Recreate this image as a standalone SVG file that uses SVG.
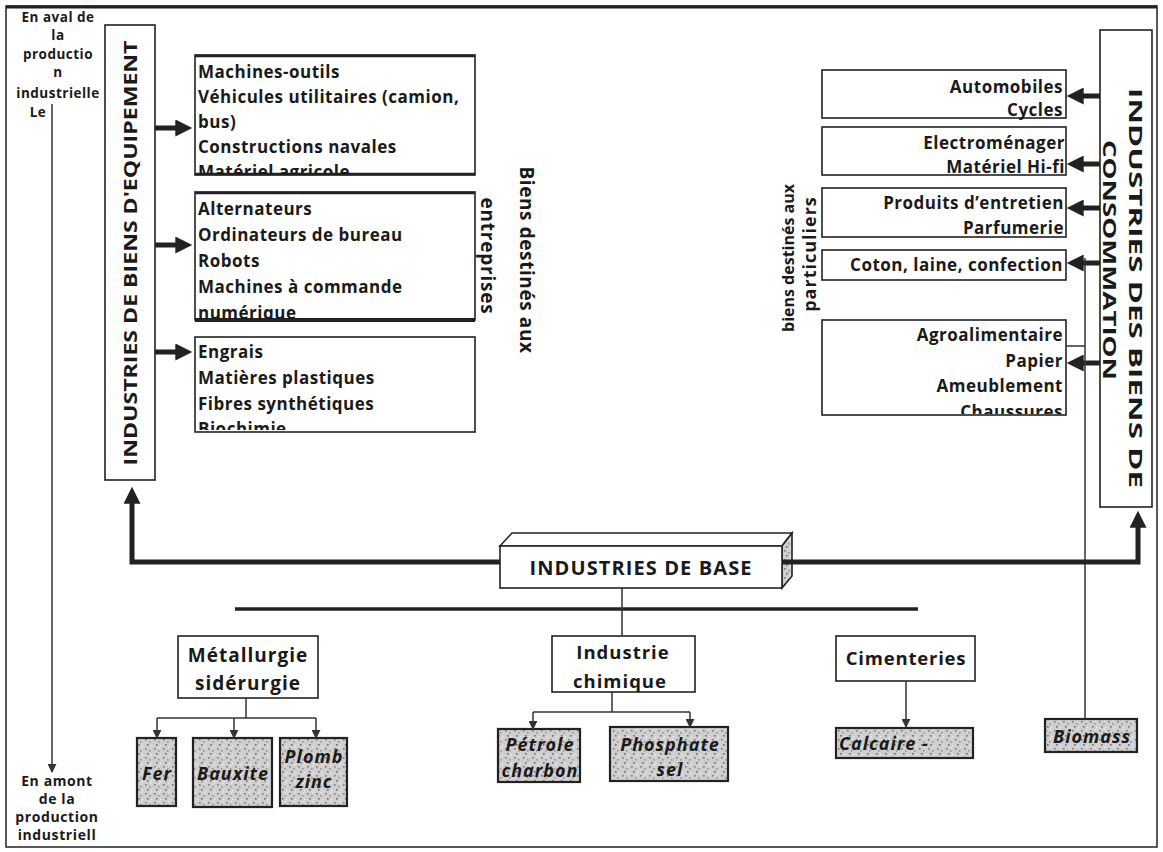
<svg xmlns="http://www.w3.org/2000/svg" width="1163" height="852" viewBox="0 0 1163 852">
<style>
.t{font-family:"Open Sans","Liberation Sans",sans-serif;font-weight:700;fill:#1a1a1a}
.l{font-size:17px;letter-spacing:0.5px}
.it{font-style:italic;font-size:18px;letter-spacing:1px}
.box{fill:#fff;stroke:#222;stroke-width:1.6}
.gbox{fill:url(#stip);stroke:#222;stroke-width:2.2}
.thick{fill:none;stroke:#222;stroke-width:5}
.thin{fill:none;stroke:#333;stroke-width:1.5}
</style>
<defs>
<pattern id="stip" width="9" height="9" patternUnits="userSpaceOnUse">
<rect width="9" height="9" fill="#cfcfcf"/>
<rect x="1" y="1" width="1.6" height="1.6" fill="#7a7a7a"/>
<rect x="5" y="3" width="1.6" height="1.6" fill="#969696"/>
<rect x="3" y="6" width="1.6" height="1.6" fill="#6e6e6e"/>
<rect x="7" y="7" width="1.2" height="1.2" fill="#f2f2f2"/>
<rect x="6" y="0" width="1.2" height="1.2" fill="#eee"/>
</pattern>
<marker id="big" viewBox="0 0 10 10" refX="1" refY="5" markerWidth="18" markerHeight="17" markerUnits="userSpaceOnUse" orient="auto">
<path d="M0,0 L10,5 L0,10 z" fill="#222"/>
</marker>
<marker id="sm" viewBox="0 0 10 10" refX="9" refY="5" markerWidth="9" markerHeight="9" markerUnits="userSpaceOnUse" orient="auto">
<path d="M0,0 L10,5 L0,10 z" fill="#333"/>
</marker>
<clipPath id="c1"><rect x="196" y="56" width="279" height="118"/></clipPath>
<clipPath id="c2"><rect x="196" y="193" width="279" height="126"/></clipPath>
<clipPath id="c3"><rect x="196" y="338" width="279" height="92"/></clipPath>
<clipPath id="c5"><rect x="823" y="321" width="242" height="93"/></clipPath>
</defs>

<rect x="6" y="6" width="1151" height="841" fill="#fff" stroke="#222" stroke-width="1.5"/>
<line x1="6" y1="7" x2="1157" y2="7" stroke="#222" stroke-width="3"/>

<g id="labels-left">
<text class="t" font-size="13.5" letter-spacing="0.5" text-anchor="middle"><tspan x="58" y="22">En aval de</tspan><tspan x="58" y="40">la</tspan><tspan x="58" y="59">productio</tspan><tspan x="58" y="77">n</tspan><tspan x="58" y="98">industrielle</tspan><tspan x="38" y="117">Le</tspan></text>
<text class="t" font-size="14" letter-spacing="0.6" text-anchor="middle"><tspan x="57" y="786">En amont</tspan><tspan x="57" y="804">de la</tspan><tspan x="57" y="822">production</tspan><tspan x="57" y="840">industriell</tspan></text>
</g>

<g id="equipement">
<rect class="box" x="105" y="25" width="50" height="455"/>
<text class="t" font-size="18" text-anchor="middle" transform="translate(137,253) rotate(-90)" textLength="425" lengthAdjust="spacingAndGlyphs">INDUSTRIES DE BIENS D'EQUIPEMENT</text>
</g>

<g id="list-equip-1">
<rect class="box" x="195" y="55" width="280" height="120"/>
<line x1="195" y1="56" x2="475" y2="56" stroke="#222" stroke-width="2.5"/>
<line x1="195" y1="174" x2="475" y2="174" stroke="#222" stroke-width="2.5"/>
<text class="t l" clip-path="url(#c1)"><tspan x="198" y="78">Machines-outils</tspan><tspan x="198" y="103">Véhicules utilitaires (camion,</tspan><tspan x="198" y="128">bus)</tspan><tspan x="198" y="153">Constructions navales</tspan><tspan x="198" y="178">Matériel agricole</tspan></text>
</g>

<g id="list-equip-2">
<rect class="box" x="195" y="192" width="280" height="128"/>
<line x1="195" y1="193" x2="475" y2="193" stroke="#222" stroke-width="2.5"/>
<line x1="195" y1="320" x2="475" y2="320" stroke="#222" stroke-width="4"/>
<text class="t l" clip-path="url(#c2)"><tspan x="198" y="215">Alternateurs</tspan><tspan x="198" y="241">Ordinateurs de bureau</tspan><tspan x="198" y="267">Robots</tspan><tspan x="198" y="293">Machines à commande</tspan><tspan x="198" y="319">numérique</tspan></text>
</g>

<g id="list-equip-3">
<rect class="box" x="195" y="337" width="280" height="95"/>
<text class="t l" clip-path="url(#c3)"><tspan x="198" y="358">Engrais</tspan><tspan x="198" y="384">Matières plastiques</tspan><tspan x="198" y="410">Fibres synthétiques</tspan><tspan x="198" y="435">Biochimie</tspan></text>
</g>

<g id="label-entreprises">
<text class="t" font-size="19" letter-spacing="0.6" text-anchor="middle" transform="translate(520,260) rotate(90)">Biens destinés aux</text>
<text class="t" font-size="19" letter-spacing="0.8" text-anchor="middle" transform="translate(481,256) rotate(90)">entreprises</text>
</g>

<g id="label-particuliers">
<text class="t" font-size="16" text-anchor="middle" transform="translate(794,258) rotate(-90)">biens destinés aux</text>
<text class="t" font-size="18" letter-spacing="1" text-anchor="middle" transform="translate(816,254) rotate(-90)">particuliers</text>
</g>

<g id="consommation">
<rect class="box" x="1100" y="30" width="52" height="477"/>
<text class="t" font-size="18" text-anchor="middle" transform="translate(1129,288) rotate(90)" textLength="400" lengthAdjust="spacingAndGlyphs">INDUSTRIES DES BIENS DE</text>
<text class="t" font-size="18" text-anchor="middle" transform="translate(1103,260) rotate(90)" textLength="240" lengthAdjust="spacingAndGlyphs">CONSOMMATION</text>
</g>

<g id="list-conso-1">
<rect class="box" x="822" y="70" width="244" height="48"/>
<text class="t l" text-anchor="end"><tspan x="1063" y="93">Automobiles</tspan><tspan x="1063" y="116">Cycles</tspan></text>
</g>
<g id="list-conso-2">
<rect class="box" x="822" y="127" width="244" height="48"/>
<text class="t l" text-anchor="end"><tspan x="1065" y="149">Electroménager</tspan><tspan x="1065" y="173">Matériel Hi-fi</tspan></text>
</g>
<g id="list-conso-3">
<rect class="box" x="822" y="188" width="244" height="49"/>
<text class="t l" text-anchor="end"><tspan x="1064" y="209">Produits d’entretien</tspan><tspan x="1064" y="234">Parfumerie</tspan></text>
</g>
<g id="list-conso-4">
<rect class="box" x="822" y="250" width="244" height="30"/>
<text class="t l" text-anchor="end" x="1063" y="271">Coton, laine, confection</text>
</g>
<g id="list-conso-5">
<rect class="box" x="822" y="320" width="244" height="95"/>
<text class="t l" text-anchor="end" clip-path="url(#c5)"><tspan x="1063" y="341">Agroalimentaire</tspan><tspan x="1063" y="367">Papier</tspan><tspan x="1063" y="392">Ameublement</tspan><tspan x="1063" y="418">Chaussures</tspan></text>
</g>

<g id="base">
<polygon points="500,546 512,533 792,533 782,546" fill="#fff" stroke="#222" stroke-width="1.6"/>
<polygon points="782,546 792,533 792,576 782,588" fill="url(#stip)" stroke="#222" stroke-width="1.6"/>
<rect class="box" x="500" y="546" width="282" height="42"/>
<text class="t" font-size="20" letter-spacing="1.1" text-anchor="middle" x="641" y="575">INDUSTRIES DE BASE</text>
</g>

<g id="metallurgie">
<rect class="box" x="178" y="636" width="140" height="62"/>
<text class="t" font-size="19" letter-spacing="1" text-anchor="middle"><tspan x="248" y="662">Métallurgie</tspan><tspan x="248" y="690">sidérurgie</tspan></text>
</g>
<g id="fer"><rect class="gbox" x="137" y="738" width="39" height="68"/><text class="t it" font-size="19" text-anchor="middle" x="157" y="780">Fer</text></g>
<g id="bauxite"><rect class="gbox" x="193" y="738" width="79" height="69"/><text class="t it" text-anchor="middle" x="233" y="780">Bauxite</text></g>
<g id="plomb"><rect class="gbox" x="280" y="738" width="67" height="68"/><text class="t it" text-anchor="middle"><tspan x="314" y="763">Plomb</tspan><tspan x="314" y="788">zinc</tspan></text></g>

<g id="chimique">
<rect class="box" x="552" y="636" width="143" height="56"/>
<text class="t" font-size="18.5" letter-spacing="1" text-anchor="middle"><tspan x="623" y="659">Industrie</tspan><tspan x="620" y="688">chimique</tspan></text>
</g>
<g id="petrole"><rect class="gbox" x="498" y="729" width="82" height="53"/><text class="t it" font-size="16" letter-spacing="1.3" text-anchor="middle"><tspan x="540" y="751">Pétrole</tspan><tspan x="540" y="777">charbon</tspan></text></g>
<g id="phosphate"><rect class="gbox" x="610" y="727" width="118" height="54"/><text class="t it" font-size="19" letter-spacing="1.2" text-anchor="middle"><tspan x="670" y="751">Phosphate</tspan><tspan x="670" y="776">sel</tspan></text></g>

<g id="cimenteries">
<rect class="box" x="836" y="636" width="139" height="45"/>
<text class="t" font-size="18.5" letter-spacing="0.8" text-anchor="middle" x="906" y="665">Cimenteries</text>
</g>
<g id="calcaire"><rect class="gbox" x="836" y="728" width="137" height="30"/><text class="t it" x="839" y="750">Calcaire -</text></g>
<g id="biomass"><rect class="gbox" x="1045" y="719" width="92" height="33"/><text class="t it" letter-spacing="1.3" text-anchor="middle" x="1092" y="743">Biomass</text></g>

<g id="connectors">
<line class="thin" x1="52" y1="104" x2="52" y2="772" marker-end="url(#sm)"/>
<line class="thick" x1="155" y1="128" x2="177" y2="128" marker-end="url(#big)"/>
<line class="thick" x1="155" y1="245" x2="177" y2="245" marker-end="url(#big)"/>
<line class="thick" x1="155" y1="352" x2="177" y2="352" marker-end="url(#big)"/>
<line class="thick" x1="1100" y1="96" x2="1082" y2="96" marker-end="url(#big)"/>
<line class="thick" x1="1100" y1="164" x2="1082" y2="164" marker-end="url(#big)"/>
<line class="thick" x1="1100" y1="208" x2="1082" y2="208" marker-end="url(#big)"/>
<line class="thick" x1="1100" y1="263" x2="1082" y2="263" marker-end="url(#big)"/>
<line class="thick" x1="1100" y1="363" x2="1082" y2="363" marker-end="url(#big)"/>
<line class="thin" x1="1085" y1="719" x2="1085" y2="258" stroke-width="2"/>
<line class="thin" x1="1066" y1="346" x2="1085" y2="346" stroke-width="2"/>
<path class="thick" d="M500,562 H132 V502" marker-end="url(#big)"/>
<path class="thick" d="M782,562 H1138 V526" marker-end="url(#big)"/>
<line x1="235" y1="609" x2="918" y2="609" stroke="#222" stroke-width="3.5"/>
<line class="thin" x1="622" y1="588" x2="622" y2="636" stroke-width="2.2"/>
<line class="thin" x1="246" y1="698" x2="246" y2="718"/>
<line class="thin" x1="157" y1="718" x2="316" y2="718"/>
<line class="thin" x1="157" y1="718" x2="157" y2="738" marker-end="url(#sm)"/>
<line class="thin" x1="234" y1="718" x2="234" y2="738" marker-end="url(#sm)"/>
<line class="thin" x1="316" y1="718" x2="316" y2="738" marker-end="url(#sm)"/>
<line class="thin" x1="612" y1="692" x2="612" y2="712"/>
<line class="thin" x1="533" y1="712" x2="690" y2="712"/>
<line class="thin" x1="533" y1="712" x2="533" y2="729" marker-end="url(#sm)"/>
<line class="thin" x1="690" y1="712" x2="690" y2="727" marker-end="url(#sm)"/>
<line class="thin" x1="906" y1="681" x2="906" y2="727" marker-end="url(#sm)"/>
</g>
</svg>
